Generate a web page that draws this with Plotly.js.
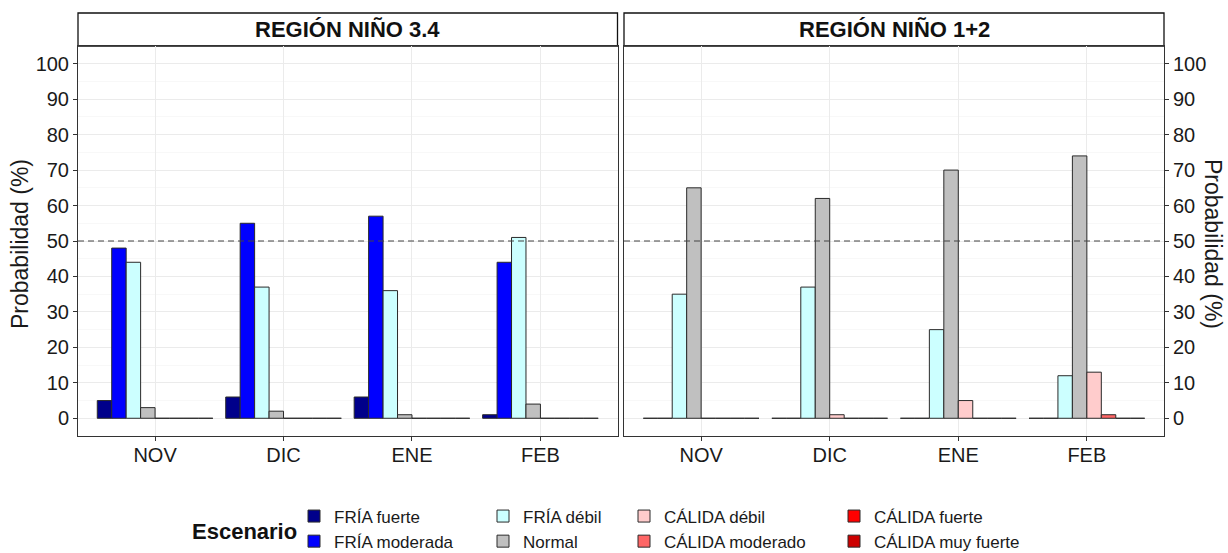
<!DOCTYPE html>
<html>
<head>
<meta charset="utf-8">
<script src="https://cdn.plot.ly/plotly-3.0.1.min.js"></script>
<style>html,body{margin:0;padding:0;background:#fff;}#chart{width:1228px;height:553px;}</style>
</head>
<body>
<div id="chart"></div>
<script>
// ---- data ----
const months = ["NOV", "DIC", "ENE", "FEB"];
const scenarios = ["FRÍA fuerte", "FRÍA moderada", "FRÍA débil", "Normal",
                   "CÁLIDA débil", "CÁLIDA moderado", "CÁLIDA fuerte", "CÁLIDA muy fuerte"];
const scenarioColors = ["#00008B", "#0000FF", "#CCFFFF", "#C0C0C0",
                        "#FFCCCC", "#FF6666", "#FF0000", "#CC0000"];
const regionTitles = ["REGIÓN NIÑO 3.4", "REGIÓN NIÑO 1+2"];
const yTicks = [0, 10, 20, 30, 40, 50, 60, 70, 80, 90, 100];
const threshold = 50;

// Región Niño 3.4
const n34_friaFuerte      = [5, 6, 6, 1];
const n34_friaModerada    = [48, 55, 57, 44];
const n34_friaDebil       = [44, 37, 36, 51];
const n34_normal          = [3, 2, 1, 4];
const n34_calidaDebil     = [0, 0, 0, 0];
const n34_calidaModerado  = [0, 0, 0, 0];
const n34_calidaFuerte    = [0, 0, 0, 0];
const n34_calidaMuyFuerte = [0, 0, 0, 0];

// Región Niño 1+2
const n12_friaFuerte      = [0, 0, 0, 0];
const n12_friaModerada    = [0, 0, 0, 0];
const n12_friaDebil       = [35, 37, 25, 12];
const n12_normal          = [65, 62, 70, 74];
const n12_calidaDebil     = [0, 1, 5, 13];
const n12_calidaModerado  = [0, 0, 0, 1];
const n12_calidaFuerte    = [0, 0, 0, 0];
const n12_calidaMuyFuerte = [0, 0, 0, 0];

const n34 = [n34_friaFuerte, n34_friaModerada, n34_friaDebil, n34_normal,
             n34_calidaDebil, n34_calidaModerado, n34_calidaFuerte, n34_calidaMuyFuerte];
const n12 = [n12_friaFuerte, n12_friaModerada, n12_friaDebil, n12_normal,
             n12_calidaDebil, n12_calidaModerado, n12_calidaFuerte, n12_calidaMuyFuerte];

// ---- build ----
const FONT = "Liberation Sans, Arial, sans-serif";
const xIdx = months.map((m, i) => i + 1);
const legendNames = ["legend", "legend", "legend2", "legend2", "legend3", "legend3", "legend4", "legend4"];

const traces = [];
[n34, n12].forEach((region, r) => {
  region.forEach((vals, s) => {
    traces.push({
      type: "bar",
      x: xIdx,
      y: vals,
      name: scenarios[s],
      legendgroup: scenarios[s],
      legend: legendNames[s],
      showlegend: r === 0,
      xaxis: r === 0 ? "x" : "x2",
      yaxis: r === 0 ? "y" : "y2",
      marker: { color: scenarioColors[s], line: { color: "#2a2a2a", width: 1 } },
      hoverinfo: "name+y"
    });
  });
});

const H = 553, W = 1228;
const plotTop = 46, plotBot = 436;
const yDom = [(H - plotBot) / H, (H - plotTop) / H];
const xDom1 = [78 / W, 617.5 / W];
const xDom2 = [624 / W, 1164 / W];

const commonX = {
  range: [0.4, 4.6],
  tickvals: xIdx,
  ticktext: months,
  showgrid: true,
  gridcolor: "#EBEBEB",
  gridwidth: 1,
  zeroline: false,
  showline: true,
  mirror: true,
  linecolor: "#333",
  linewidth: 1,
  ticks: "outside",
  ticklen: 4,
  tickcolor: "#333",
  ticklabelstandoff: -3,
  tickfont: { family: FONT, size: 20, color: "#1a1a1a" },
  fixedrange: true
};
const commonY = {
  range: [-5, 105],
  tickvals: yTicks,
  showgrid: true,
  gridcolor: "#EBEBEB",
  gridwidth: 1,
  minor: { dtick: 5, tick0: 0, showgrid: true, gridcolor: "#F4F4F4", gridwidth: 0.6, ticks: "" },
  zeroline: false,
  showline: true,
  mirror: true,
  linecolor: "#333",
  linewidth: 1,
  ticks: "outside",
  ticklen: 4,
  tickcolor: "#333",
  tickfont: { family: FONT, size: 20, color: "#1a1a1a" },
  fixedrange: true
};

const legendBase = {
  orientation: "v",
  bgcolor: "rgba(0,0,0,0)",
  borderwidth: 0,
  font: { family: FONT, size: 17, color: "#1a1a1a" },
  tracegroupgap: 0,
  itemclick: false,
  itemdoubleclick: false,
  xanchor: "left",
  yanchor: "middle",
  y: (H - 529) / H
};

const stripY0 = (H - 46) / H, stripY1 = (H - 13) / H;

const layout = {
  width: W,
  height: H,
  autosize: false,
  margin: { l: 0, r: 0, t: 0, b: 0, autoexpand: false },
  paper_bgcolor: "#fff",
  plot_bgcolor: "#fff",
  barmode: "group",
  bargap: 0.1,
  bargroupgap: 0,
  font: { family: FONT, color: "#1a1a1a" },
  xaxis: Object.assign({}, commonX, { domain: xDom1, anchor: "y" }),
  yaxis: Object.assign({}, commonY, { domain: yDom, anchor: "x", side: "left" }),
  xaxis2: Object.assign({}, commonX, { domain: xDom2, anchor: "y2" }),
  yaxis2: Object.assign({}, commonY, { domain: yDom, anchor: "x2", side: "right" }),
  legend:  Object.assign({}, legendBase, { x: 294 / W }),
  legend2: Object.assign({}, legendBase, { x: 483 / W }),
  legend3: Object.assign({}, legendBase, { x: 624 / W }),
  legend4: Object.assign({}, legendBase, { x: 834 / W }),
  shapes: [
    // strips
    { type: "rect", xref: "paper", yref: "paper", x0: xDom1[0], x1: xDom1[1], y0: stripY0, y1: stripY1,
      fillcolor: "#fff", line: { color: "#111", width: 1.3 }, layer: "below" },
    { type: "rect", xref: "paper", yref: "paper", x0: xDom2[0], x1: xDom2[1], y0: stripY0, y1: stripY1,
      fillcolor: "#fff", line: { color: "#111", width: 1.3 }, layer: "below" },
    // threshold lines
    { type: "line", xref: "x domain", yref: "y", x0: 0, x1: 1, y0: threshold, y1: threshold,
      line: { color: "#444", width: 1.2, dash: "6px,4px" } },
    { type: "line", xref: "x2 domain", yref: "y2", x0: 0, x1: 1, y0: threshold, y1: threshold,
      line: { color: "#444", width: 1.2, dash: "6px,4px" } }
  ],
  annotations: [
    { xref: "paper", yref: "paper", x: (xDom1[0] + xDom1[1]) / 2, y: (stripY0 + stripY1) / 2,
      text: "<b>" + regionTitles[0] + "</b>", showarrow: false,
      font: { family: FONT, size: 22, color: "#111" }, xanchor: "center", yanchor: "middle" },
    { xref: "paper", yref: "paper", x: (xDom2[0] + xDom2[1]) / 2, y: (stripY0 + stripY1) / 2,
      text: "<b>" + regionTitles[1] + "</b>", showarrow: false,
      font: { family: FONT, size: 22, color: "#111" }, xanchor: "center", yanchor: "middle" },
    { xref: "paper", yref: "paper", x: 20 / W, y: (H - 244) / H, text: "Probabilidad (%)",
      textangle: -90, showarrow: false, font: { family: FONT, size: 23, color: "#1a1a1a" },
      xanchor: "center", yanchor: "middle" },
    { xref: "paper", yref: "paper", x: 1213 / W, y: (H - 244) / H, text: "Probabilidad (%)",
      textangle: 90, showarrow: false, font: { family: FONT, size: 23, color: "#1a1a1a" },
      xanchor: "center", yanchor: "middle" },
    { xref: "paper", yref: "paper", x: 299 / W, y: (H - 531) / H, text: "<b>Escenario</b>",
      showarrow: false, font: { family: FONT, size: 22, color: "#111" },
      xanchor: "right", yanchor: "middle" }
  ]
};

Plotly.newPlot("chart", traces, layout, { displayModeBar: false, staticPlot: true });
</script>
</body>
</html>
